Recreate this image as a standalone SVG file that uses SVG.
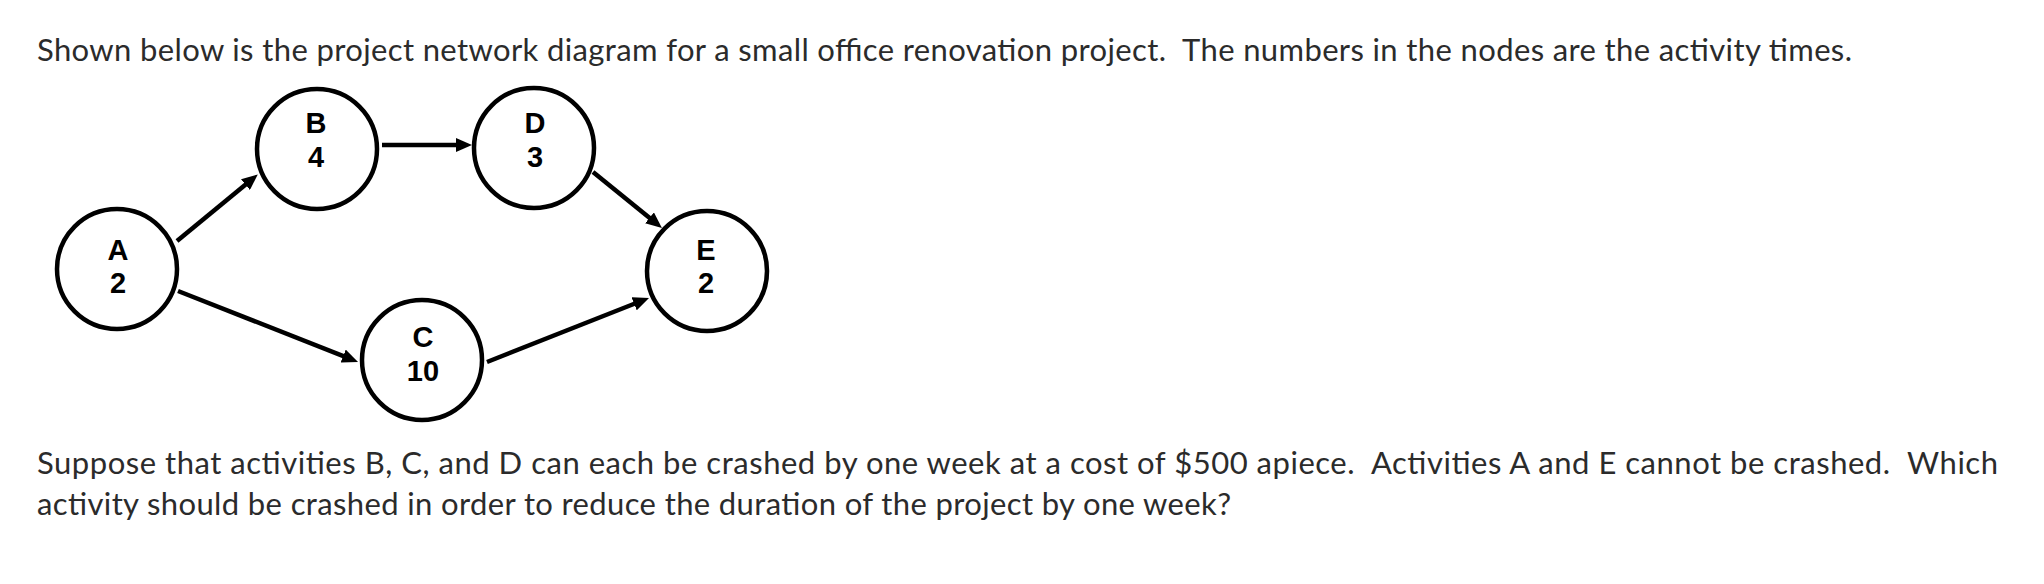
<svg xmlns="http://www.w3.org/2000/svg" width="2044" height="584" viewBox="0 0 2044 584">
<style>
.para{font-family:Lato,"Open Sans","Liberation Sans",sans-serif;font-size:31px;fill:#2b2b2b;}
.node circle{fill:#fff;stroke:#000;stroke-width:4.5;}
.node text{font-family:"Liberation Sans",Arial,sans-serif;font-weight:bold;font-size:29px;fill:#000;text-anchor:middle;}
.edge{stroke:#000;stroke-width:4.5;fill:none;marker-end:url(#arr);}
</style>
<defs>
<marker id="arr" viewBox="0 0 16 14" markerWidth="16" markerHeight="14" markerUnits="userSpaceOnUse" refX="5" refY="7" orient="auto">
<path d="M0,0 L16,7 L0,14 z" fill="#000"/>
</marker>
</defs>
<rect width="2044" height="584" fill="#fff"/>
<text class="para" x="37" y="61" xml:space="preserve" textLength="1815" lengthAdjust="spacing">Shown below is the project network diagram for a small office renovation project.  The numbers in the nodes are the activity times.</text>
<g id="connectors">
<line class="edge" x1="177" y1="241" x2="249.3" y2="181.4"/>
<line class="edge" x1="382" y1="145" x2="461" y2="145"/>
<line class="edge" x1="593" y1="172" x2="653.4" y2="221"/>
<line class="edge" x1="178" y1="291" x2="347.8" y2="357.9"/>
<line class="edge" x1="487" y1="362" x2="638.8" y2="302"/>
</g>
<g id="node-A" class="node"><circle cx="117" cy="269" r="60"/><text x="118" y="260">A</text><text x="118" y="293">2</text></g>
<g id="node-B" class="node"><circle cx="317" cy="149" r="60"/><text x="316" y="133">B</text><text x="316" y="167">4</text></g>
<g id="node-D" class="node"><circle cx="534" cy="148" r="60"/><text x="535" y="133">D</text><text x="535" y="167">3</text></g>
<g id="node-E" class="node"><circle cx="707" cy="271" r="60"/><text x="706" y="260">E</text><text x="706" y="293">2</text></g>
<g id="node-C" class="node"><circle cx="422" cy="360" r="60"/><text x="423" y="347">C</text><text x="423" y="381">10</text></g>
<text class="para" x="37" y="474" xml:space="preserve" textLength="1961" lengthAdjust="spacing">Suppose that activities B, C, and D can each be crashed by one week at a cost of $500 apiece.  Activities A and E cannot be crashed.  Which</text>
<text class="para" x="37" y="515" xml:space="preserve" textLength="1194" lengthAdjust="spacing">activity should be crashed in order to reduce the duration of the project by one week?</text>
</svg>
